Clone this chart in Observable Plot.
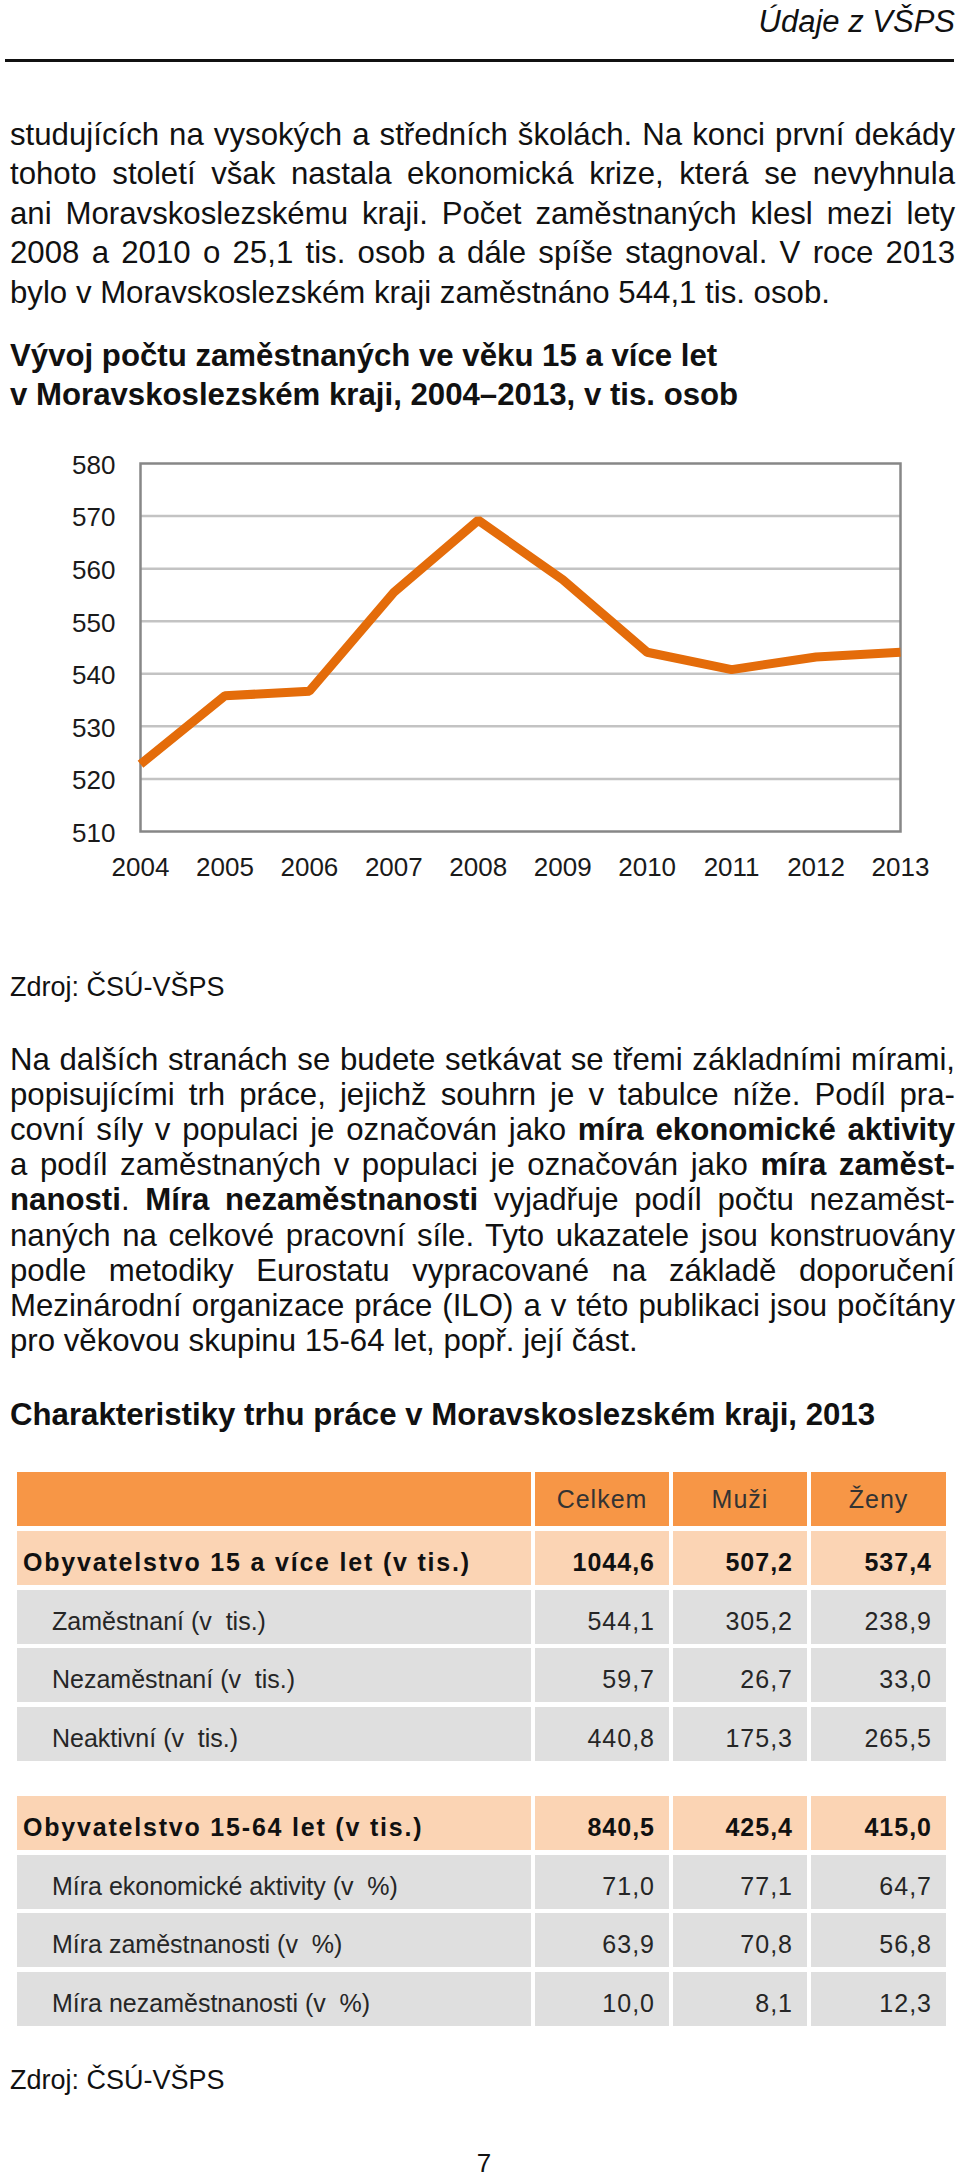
<!DOCTYPE html>
<html lang="cs">
<head>
<meta charset="utf-8">
<script src="https://cdn.jsdelivr.net/npm/d3@7"></script>
<script src="https://cdn.jsdelivr.net/npm/@observablehq/plot@0.6"></script>
<style>
  html, body { margin: 0; padding: 0; background: #fff; }
  body { width: 960px; height: 2175px; position: relative; overflow: hidden;
         font-family: "Liberation Sans", Arial, sans-serif; color: #111; }
  .abs { position: absolute; }
  .line { position: absolute; left: 10px; width: 945px; font-size: 31.2px; line-height: 36.6px; height: 36.6px; white-space: nowrap; }
  .j { text-align: justify; text-align-last: justify; white-space: normal; }
  .cell { position: absolute; height: 54px; line-height: 54px; font-size: 25px; white-space: pre; box-sizing: border-box; color: #262626; }
  .cell.row { padding-top: 9px; line-height: 44px; }
</style>
</head>
<body>
<div class="abs" style="top:4px; right:5px; font-size:31px; line-height:35px; font-style:italic; color:#111;">Údaje z VŠPS</div>
<div class="abs" style="top:59px; left:5px; width:949px; height:3px; background:#111;"></div>

<div id="p1"></div>
<div id="t1"></div>
<div id="chart" class="abs" style="left:0; top:430px; width:960px;"></div>
<div class="abs" style="left:10px; top:971.5px; font-size:27px; line-height:31px;">Zdroj: ČSÚ-VŠPS</div>
<div id="p2"></div>
<div id="t2"></div>
<div id="table"></div>
<div class="abs" style="left:10px; top:2065px; font-size:27px; line-height:31px;">Zdroj: ČSÚ-VŠPS</div>
<div class="abs" style="left:464px; width:40px; text-align:center; top:2152px; height:22px; font-size:26px; line-height:22px;">7</div>

<script>
// ---------- chart data ----------
const years = [2004, 2005, 2006, 2007, 2008, 2009, 2010, 2011, 2012, 2013];
const employed = [522.8, 535.8, 536.7, 555.5, 569.2, 557.9, 544.1, 540.8, 543.2, 544.1];
const yTicks = [510, 520, 530, 540, 550, 560, 570, 580];
const gridValues = [520, 530, 540, 550, 560, 570];

// ---------- table data ----------
const tableColumns = ["Celkem", "Muži", "Ženy"];
const rowLabels = [
  "Obyvatelstvo 15 a více let (v tis.)",
  "Zaměstnaní (v  tis.)",
  "Nezaměstnaní (v  tis.)",
  "Neaktivní (v  tis.)",
  "Obyvatelstvo 15-64 let (v tis.)",
  "Míra ekonomické aktivity (v  %)",
  "Míra zaměstnanosti (v  %)",
  "Míra nezaměstnanosti (v  %)"
];
const rowBold = [true, false, false, false, true, false, false, false];
const celkem = ["1044,6", "544,1", "59,7", "440,8", "840,5", "71,0", "63,9", "10,0"];
const muzi   = ["507,2", "305,2", "26,7", "175,3", "425,4", "77,1", "70,8", "8,1"];
const zeny   = ["537,4", "238,9", "33,0", "265,5", "415,0", "64,7", "56,8", "12,3"];

// ---------- texts ----------
const p1Lines = [
  "studujících na vysokých a středních školách. Na konci první dekády",
  "tohoto století však nastala ekonomická krize, která se nevyhnula",
  "ani Moravskoslezskému kraji. Počet zaměstnaných klesl mezi lety",
  "2008 a 2010 o 25,1 tis. osob a dále spíše stagnoval. V roce 2013",
  "bylo v Moravskoslezském kraji zaměstnáno 544,1 tis. osob."
];
const t1Lines = [
  "Vývoj počtu zaměstnaných ve věku 15 a více let",
  "v Moravskoslezském kraji, 2004–2013, v tis. osob"
];
const p2Lines = [
  "Na dalších stranách se budete setkávat se třemi základními mírami,",
  "popisujícími trh práce, jejichž souhrn je v tabulce níže. Podíl pra-",
  "covní síly v populaci je označován jako <b>míra ekonomické aktivity</b>",
  "a podíl zaměstnaných v populaci je označován jako <b>míra zaměst-</b>",
  "<b>nanosti</b>. <b>Míra nezaměstnanosti</b> vyjadřuje podíl počtu nezaměst-",
  "naných na celkové pracovní síle. Tyto ukazatele jsou konstruovány",
  "podle metodiky Eurostatu vypracované na základě doporučení",
  "Mezinárodní organizace práce (ILO) a v této publikaci jsou počítány",
  "pro věkovou skupinu 15-64 let, popř. její část."
];
const t2Text = "Charakteristiky trhu práce v Moravskoslezském kraji, 2013";

function addLines(containerId, lines, top, step, opts = {}) {
  const c = document.getElementById(containerId);
  lines.forEach((txt, i) => {
    const d = document.createElement("div");
    d.className = "line" + (opts.justify && i < lines.length - 1 ? " j" : "");
    d.style.top = (top + i * step) + "px";
    if (opts.bold) d.style.fontWeight = "bold";
    d.innerHTML = txt;
    c.appendChild(d);
  });
}
addLines("p1", p1Lines, 116.6, 39.6, {justify: true});
addLines("t1", t1Lines, 338, 39, {bold: true});
addLines("p2", p2Lines, 1042, 35.1, {justify: true});
addLines("t2", [t2Text], 1396.8, 36.6, {bold: true});

// ---------- chart ----------
const data = years.map((y, i) => ({year: y, value: employed[i]}));
const chart = Plot.plot({
  width: 960,
  height: 461,
  marginTop: 33,
  marginBottom: 60,
  marginLeft: 140,
  marginRight: 60,
  style: {fontFamily: '"Liberation Sans", Arial, sans-serif', fontSize: "26px", color: "#1a1a1a", background: "transparent", overflow: "visible"},
  x: {domain: [2004, 2013], label: null},
  y: {domain: [510, 580], label: null},
  marks: [
    Plot.ruleY(gridValues, {stroke: "#c3c3c3", strokeWidth: 2.5}),
    Plot.frame({stroke: "#878787", strokeWidth: 2.5}),
    Plot.line(data, {x: "year", y: "value", stroke: "#E46C0A", strokeWidth: 9, strokeLinecap: "butt", strokeLinejoin: "miter"}),
    Plot.axisY({ticks: yTicks, tickSize: 0, tickPadding: 25, fontSize: 26, dy: 2, label: null}),
    Plot.axisX({ticks: years, tickSize: 0, tickPadding: 26.5, fontSize: 26, tickFormat: d => String(d), label: null})
  ]
});
document.getElementById("chart").appendChild(chart);

// ---------- table ----------
const tbl = document.getElementById("table");
const colX = [[17, 531], [535, 669], [673, 807], [811, 946]];
function cell(x0, x1, top, bg, text, opts) {
  const d = document.createElement("div");
  d.className = "cell" + (opts.row ? " row" : "");
  d.style.left = x0 + "px";
  d.style.width = (x1 - x0) + "px";
  d.style.top = top + "px";
  d.style.background = bg;
  d.style.textAlign = opts.align;
  if (opts.align === "left") d.style.paddingLeft = opts.pad + "px";
  if (opts.align === "right") d.style.paddingRight = opts.pad + "px";
  if (opts.spacing != null) d.style.letterSpacing = opts.spacing + "px";
  if (opts.bold) { d.style.fontWeight = "bold"; d.style.color = "#111"; }
  if (opts.color) d.style.color = opts.color;
  d.textContent = text;
  tbl.appendChild(d);
}
const headTop = 1472;
cell(colX[0][0], colX[0][1], headTop, "#F79646", "", {align: "left", pad: 0});
tableColumns.forEach((c, j) => cell(colX[j + 1][0], colX[j + 1][1], headTop, "#F79646", c, {align: "center", spacing: 1, color: "#333"}));
rowLabels.forEach((lab, i) => {
  const top = 1531 + i * 58.5 + (i >= 4 ? 31 : 0);
  const bold = rowBold[i];
  const bg = bold ? "#FBD4B4" : "#DFDFDF";
  cell(colX[0][0], colX[0][1], top, bg, lab, {row: true, align: "left", pad: bold ? 6 : 35, bold, spacing: bold ? 1.8 : 0});
  [celkem, muzi, zeny].forEach((arr, j) => cell(colX[j + 1][0], colX[j + 1][1], top, bg, arr[i], {row: true, align: "right", pad: 14, bold, spacing: 1}));
});
</script>
</body>
</html>
